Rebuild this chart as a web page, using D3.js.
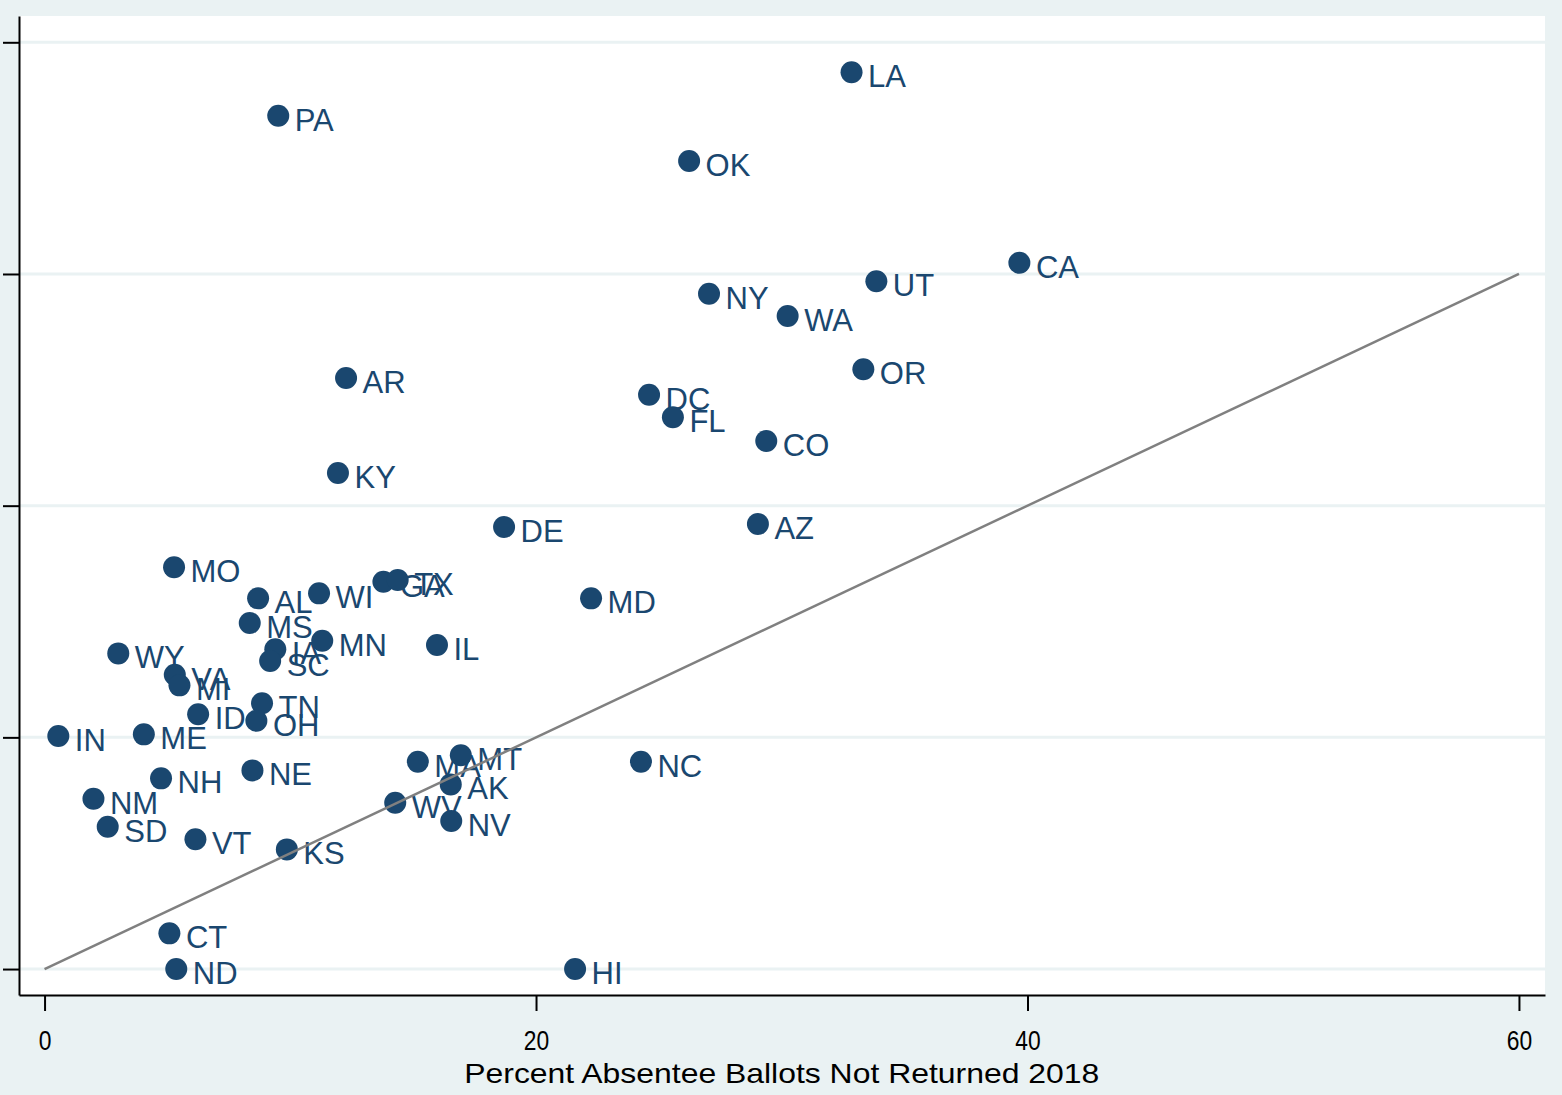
<!DOCTYPE html>
<html>
<head>
<meta charset="utf-8">
<script src="https://cdn.jsdelivr.net/npm/d3@7"></script>
<style>
  body { margin: 0; background: #eaf2f3; }
  svg { display: block; }
</style>
</head>
<body>
<svg width="1562" height="1095"></svg>
<script>
// state abbreviations and the two values
const states = ["LA","PA","OK","CA","UT","NY","WA","OR","AR","DC","FL","CO","KY","DE","AZ",
  "MO","GA","TX","AL","WI","MD","MS","MN","IL","WY","IA","SC","VA","MI","TN","ID","OH",
  "IN","ME","MA","MT","NC","NH","NE","AK","NM","WV","NV","SD","VT","KS","CT","ND","HI"];
const notReturned = [32.84,9.51,26.23,39.67,33.85,27.04,30.24,33.32,12.27,24.60,25.57,29.37,11.94,18.70,29.03,
  5.27,13.79,14.37,8.69,11.17,22.24,8.35,11.30,15.97,3.00,9.39,9.18,5.30,5.49,8.85,6.25,8.62,
  0.56,4.04,15.19,16.94,24.27,4.74,8.46,16.53,1.99,14.27,16.55,2.57,6.14,9.86,5.08,5.36,21.59];
const yValues = [77.42,73.66,69.75,60.97,59.37,58.30,56.37,51.77,51.02,49.58,47.63,45.58,42.82,38.16,38.42,
  34.68,33.43,33.58,32.00,32.43,32.00,29.87,28.34,27.97,27.25,27.60,26.59,25.41,24.49,22.94,21.99,21.44,
  20.11,20.26,17.90,18.45,17.90,16.46,17.15,15.94,14.70,14.36,12.78,12.28,11.20,10.33,3.08,0,0];
const xTicks = [0, 20, 40, 60];
const yTicks = [0, 20, 40, 60, 80];
const refX = [0, 60];
const refY = [0, 60];
const xTitle = "Percent Absentee Ballots Not Returned 2018";

const svg = d3.select("svg");
const plotLeft = 19, plotRight = 1545, plotTop = 16, plotBottom = 995;
const narrow = "'Liberation Sans Narrow', 'Arial Narrow', 'Liberation Sans', sans-serif";

const x = d3.scaleLinear().domain([-1.04, 61.06]).range([plotLeft, plotRight]);
const y = d3.scaleLinear().domain([-2.24, 82.27]).range([plotBottom, plotTop]);

svg.append("rect").attr("width", 1562).attr("height", 1095).attr("fill", "#eaf2f3");
svg.append("rect")
    .attr("x", plotLeft).attr("y", plotTop)
    .attr("width", plotRight - plotLeft).attr("height", plotBottom - plotTop)
    .attr("fill", "#ffffff");

// gridlines
svg.append("g").selectAll("line")
  .data(yTicks)
  .join("line")
    .attr("x1", plotLeft).attr("x2", plotRight)
    .attr("y1", d => y(d)).attr("y2", d => y(d))
    .attr("stroke", "#eaf2f3")
    .attr("stroke-width", 3);

// axes
const yAxis = svg.append("g")
    .attr("transform", `translate(${plotLeft},0)`)
    .call(d3.axisLeft(y).tickValues(yTicks).tickFormat("").tickSize(16).tickSizeOuter(0));

const xAxis = svg.append("g")
    .attr("transform", `translate(0,${plotBottom})`)
    .call(d3.axisBottom(x).tickValues(xTicks).tickFormat(d3.format("d")).tickSize(16).tickSizeOuter(0).tickPadding(19));

[yAxis, xAxis].forEach(a => {
  a.select(".domain").attr("stroke", "#000").attr("stroke-width", 2);
  a.selectAll(".tick line").attr("stroke", "#000").attr("stroke-width", 2);
});
// the tick numbers are set in a condensed face; squeeze them to match
xAxis.selectAll(".tick text")
    .attr("fill", "#000")
    .attr("textLength", d => String(d).length * 12.7)
    .attr("lengthAdjust", "spacingAndGlyphs")
    .style("font-family", narrow)
    .style("font-size", "28px");

svg.append("text")
    .attr("x", (x(0) + x(60)) / 2)
    .attr("y", 1083)
    .attr("text-anchor", "middle")
    .attr("textLength", 635)
    .attr("lengthAdjust", "spacingAndGlyphs")
    .style("font-family", narrow)
    .style("font-size", "28px")
    .attr("fill", "#000")
    .text(xTitle);

// points and labels
const pts = states.map((s, i) => ({ s, x: notReturned[i], y: yValues[i] }));

const g = svg.append("g");
g.selectAll("circle")
  .data(pts)
  .join("circle")
    .attr("cx", d => x(d.x))
    .attr("cy", d => y(d.y))
    .attr("r", 11)
    .attr("fill", "#1a476f");

g.selectAll("text")
  .data(pts)
  .join("text")
    .attr("x", d => x(d.x) + 16.5)
    .attr("y", d => y(d.y) + 15)
    .attr("fill", "#1a476f")
    .style("font-family", "'Liberation Sans', Arial, sans-serif")
    .style("font-size", "31px")
    .text(d => d.s);

// 45 degree reference line
svg.append("path")
    .datum(refX.map((d, i) => [d, refY[i]]))
    .attr("d", d3.line().x(d => x(d[0])).y(d => y(d[1])))
    .attr("fill", "none")
    .attr("stroke", "#808080")
    .attr("stroke-width", 2.5);
</script>
</body>
</html>
